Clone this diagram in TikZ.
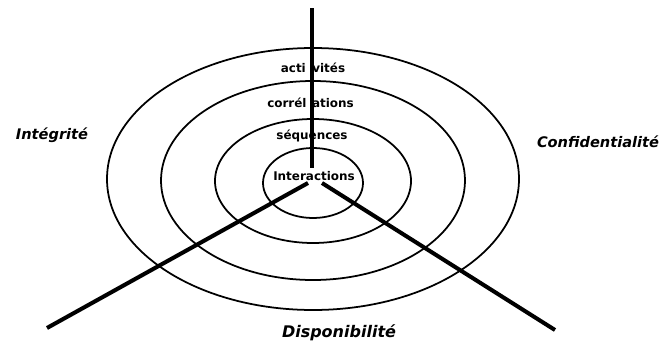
\documentclass[tikz,border=0pt]{standalone}
\usepackage{fontspec}
\setmainfont{DejaVu Sans}
\usetikzlibrary{arrows.meta}

\begin{document}
\begin{tikzpicture}[>=Latex,
  ring/.style={line width=1pt},
  axe/.style={line width=2.3pt},
  couche/.style={font=\fontsize{6.8}{8}\selectfont\bfseries, inner sep=0pt},
  pilier/.style={font=\fontsize{8.3}{10}\selectfont\bfseries\itshape, inner sep=0pt}]
\useasboundingbox (0,0) rectangle (13.24,6.86);
\draw[ring] (6.26,3.28) ellipse (4.12 and 2.62);
\draw[ring] (6.26,3.25) ellipse (3.04 and 1.99);
\draw[ring] (6.26,3.24) ellipse (1.96 and 1.24);
\draw[ring] (6.26,3.20) ellipse (1.00 and 0.70);
\node[couche] (act) at (6.26,5.50) {acti\hspace{0.13cm}vités};
\node[couche] (cor) at (6.21,4.80) {corrél\hspace{0.11cm}ations};
\node[couche] (seq) at (6.24,4.14) {séquences};
\node[couche] (int) at (6.28,3.34) {Interactions};
\node[pilier] (integ) at (1.04,4.16) {Intégrité};
\node[pilier] (conf) at (11.96,4.02) {Confidentialité};
\node[pilier, font=\fontsize{9.1}{11}\selectfont\bfseries\itshape] (dispo) at (6.78,0.20) {Disponibilité};
\coordinate (nord) at (6.24,6.70);  \coordinate (nordC) at (6.24,3.50);
\coordinate (ouestC) at (6.16,3.20); \coordinate (ouest) at (0.94,0.30);
\coordinate (estC) at (6.44,3.20);  \coordinate (est) at (11.10,0.26);
\draw[axe] (nord) -- (nordC);
\draw[axe] (ouestC) -- (ouest);
\draw[axe] (estC) -- (est);
\end{tikzpicture}
\end{document}
